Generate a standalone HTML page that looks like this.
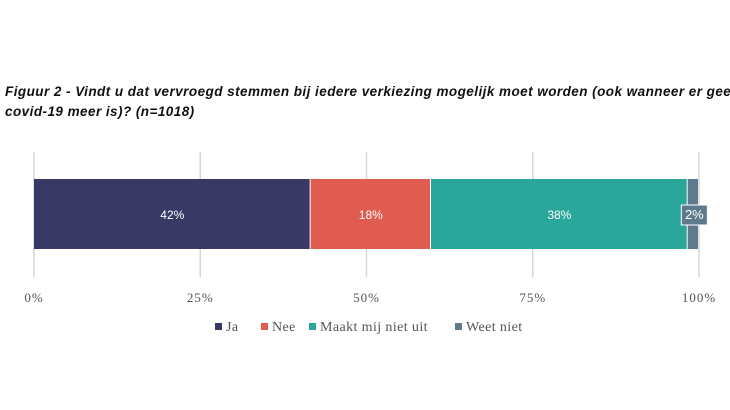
<!DOCTYPE html>
<html><head><meta charset="utf-8"><style>
body{margin:0;background:#fff;width:730px;height:410px;overflow:hidden;font-family:"Liberation Sans",sans-serif}
.title{position:absolute;left:5px;top:82px;width:730px;white-space:nowrap;font-size:13.5px;font-style:italic;font-weight:bold;color:#111;line-height:20px;letter-spacing:0.45px}
</style></head><body>
<div class="title">Figuur 2 - Vindt u dat vervroegd stemmen bij iedere verkiezing mogelijk moet worden (ook wanneer er geen<br>covid-19 meer is)? (n=1018)</div>
<svg id="c" width="730" height="410" style="position:absolute;left:0;top:0"></svg>
<script>
const categories=["Ja","Nee","Maakt mij niet uit","Weet niet"];
const values=[41.6,18.1,38.6,1.7];
const labels=["42%","18%","38%","2%"];
const colors=["#383a65","#e05c50","#2aa69b","#5f7a8c"];
const ticks=[0,25,50,75,100];
const tickLabels=["0%","25%","50%","75%","100%"];
const svg=document.getElementById('c');const NS="http://www.w3.org/2000/svg";
const x=v=>34+v*6.65;
function mk(t,a,txt){const e=document.createElementNS(NS,t);for(const k in a)e.setAttribute(k,a[k]);if(txt!==undefined)e.textContent=txt;svg.appendChild(e);return e;}
ticks.forEach((t,i)=>{
 const g=mk('line',{x1:x(t),x2:x(t),y1:152,y2:277,stroke:'#d6d6d6','stroke-width':1.5});
 
 
 const l=mk('text',{x:x(t),y:302,'text-anchor':'middle','font-size':13,fill:'#555','font-family':'Liberation Serif, serif','letter-spacing':'1'},tickLabels[i]);
 
 
});
let acc=0;
values.forEach((v,i)=>{
 const r=mk('rect',{x:x(acc),y:179,width:Math.max(0,x(acc+v)-x(acc)-1),height:70,fill:colors[i]});
 
 
 const cx=x(acc+v/2);
 if(v<5){
  const b=mk('rect',{x:cx-12,y:205,width:26,height:20,fill:colors[i],stroke:'#fff','stroke-width':1});
  
  
 }
 const t=mk('text',{x:cx+(v<5?1:0),y:219,'text-anchor':'middle','font-size':v<5?13:12,fill:'#fff'},labels[i]);
 
 
 acc+=v;
});
const lx=[215,261,309,455];
categories.forEach((c,i)=>{
 const s=mk('rect',{x:lx[i],y:323,width:7,height:7,fill:colors[i]});
 
 
 const t=mk('text',{x:lx[i]+11,y:331,'font-size':14,fill:'#555','font-family':'Liberation Serif, serif','letter-spacing':'0.4'},c);
 
 
});
</script>
</body></html>
